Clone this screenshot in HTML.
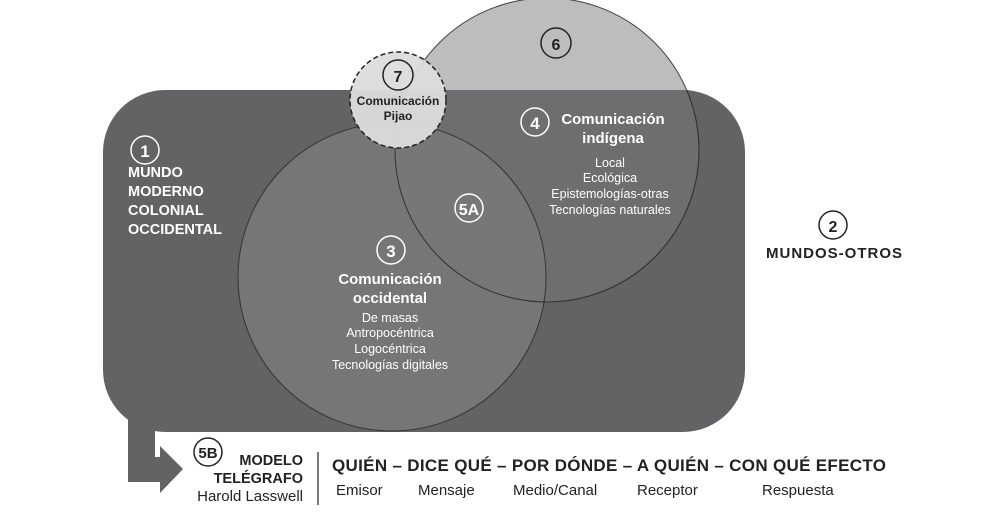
<!DOCTYPE html>
<html><head><meta charset="utf-8"><style>
body{margin:0;background:#fff;}
svg text{font-family:"Liberation Sans",sans-serif;}
</style></head><body>
<svg width="1004" height="508" viewBox="0 0 1004 508" xmlns="http://www.w3.org/2000/svg">
<defs>
<clipPath id="rc"><rect x="103" y="90" width="642" height="342" rx="62"/></clipPath>
</defs>
<circle cx="547" cy="150" r="152" fill="#bdbdbd" stroke="#444" stroke-width="1"/>
<rect x="103" y="90" width="642" height="342" rx="62" fill="#636365"/>
<path d="M128 420 L128 482 L160 482 L160 493 L183 469 L160 446 L160 457 L155 457 L155 420 Z" fill="#636365"/>
<g clip-path="url(#rc)">
<circle cx="547" cy="150" r="152" fill="#6e6e70" stroke="#333" stroke-width="1"/>
</g>
<circle cx="392" cy="277" r="154" fill="#79797b" fill-opacity="0.85" stroke="#333" stroke-width="1"/>
<g clip-path="url(#rc)">
<circle cx="547" cy="150" r="152" fill="none" stroke="#333" stroke-width="1"/>
</g>
<circle cx="398" cy="100" r="48" fill="#dcdcdc" fill-opacity="0.95" stroke="#222" stroke-width="1.5" stroke-dasharray="5,3"/>
<g fill="none" stroke="#fff" stroke-width="1.5">
<circle cx="145" cy="150" r="14"/><circle cx="535" cy="122" r="14"/><circle cx="469" cy="208" r="14"/><circle cx="391" cy="250" r="14"/>
</g>
<g fill="none" stroke="#222" stroke-width="1.5">
<circle cx="398" cy="75" r="15"/><circle cx="556" cy="43" r="15"/><circle cx="833" cy="225" r="14"/><circle cx="208" cy="452" r="14"/>
</g>
<g fill="#fff" font-weight="bold">
<text x="145" y="157" font-size="17" text-anchor="middle">1</text>
<text x="535" y="129" font-size="17" text-anchor="middle">4</text>
<text x="469" y="215" font-size="16" text-anchor="middle">5A</text>
<text x="391" y="257" font-size="17" text-anchor="middle">3</text>
<text x="128" y="177" font-size="14.5">MUNDO</text>
<text x="128" y="196" font-size="14.5">MODERNO</text>
<text x="128" y="215" font-size="14.5">COLONIAL</text>
<text x="128" y="234" font-size="14.5">OCCIDENTAL</text>
<text x="613" y="124" font-size="15" text-anchor="middle">Comunicación</text>
<text x="613" y="143" font-size="15" text-anchor="middle">indígena</text>
<text x="390" y="284" font-size="15" text-anchor="middle">Comunicación</text>
<text x="390" y="303" font-size="15" text-anchor="middle">occidental</text>
</g>
<g fill="#fff" font-size="12.5" text-anchor="middle">
<text x="610" y="167">Local</text>
<text x="610" y="182">Ecológica</text>
<text x="610" y="198">Epistemologías-otras</text>
<text x="610" y="214">Tecnologías naturales</text>
<text x="390" y="322">De masas</text>
<text x="390" y="337">Antropocéntrica</text>
<text x="390" y="353">Logocéntrica</text>
<text x="390" y="369">Tecnologías digitales</text>
</g>
<g fill="#222" font-weight="bold">
<text x="398" y="82" font-size="16" text-anchor="middle">7</text>
<text x="556" y="50" font-size="16" text-anchor="middle">6</text>
<text x="833" y="232" font-size="16" text-anchor="middle">2</text>
<text x="208" y="458" font-size="15" text-anchor="middle">5B</text>
<text x="398" y="105" font-size="12" text-anchor="middle">Comunicación</text>
<text x="398" y="120" font-size="12" text-anchor="middle">Pijao</text>
<text x="834" y="258" font-size="15" text-anchor="middle" textLength="136">MUNDOS-OTROS</text>
<text x="303" y="465" font-size="14.5" text-anchor="end">MODELO</text>
<text x="303" y="483" font-size="14.5" text-anchor="end">TELÉGRAFO</text>
<text x="332" y="471" font-size="17" textLength="554">QUIÉN – DICE QUÉ – POR DÓNDE – A QUIÉN – CON QUÉ EFECTO</text>
</g>
<g fill="#222" font-size="15">
<text x="303" y="501" text-anchor="end">Harold Lasswell</text>
<text x="336" y="495">Emisor</text>
<text x="418" y="495">Mensaje</text>
<text x="513" y="495">Medio/Canal</text>
<text x="637" y="495">Receptor</text>
<text x="762" y="495">Respuesta</text>
</g>
<line x1="318" y1="452" x2="318" y2="505" stroke="#222" stroke-width="1.2"/>
</svg>
</body></html>
